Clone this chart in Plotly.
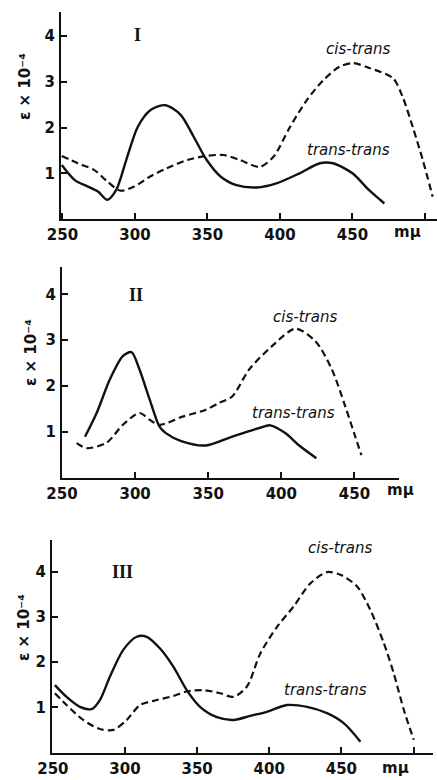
import plotly.graph_objects as go

# ---------------- data ----------------
# Panel I
x1_tt = [249.5, 258.5, 267.6, 274.5, 281, 287, 294, 302, 311, 321, 331.5, 340.5, 349.5, 359, 370, 384, 397.5, 413.5, 427.5, 436.5, 450, 461.5, 472]
y1_tt = [1.18, 0.85, 0.71, 0.6, 0.42, 0.63, 1.29, 2.02, 2.39, 2.49, 2.28, 1.8, 1.29, 0.93, 0.74, 0.69, 0.78, 1.0, 1.22, 1.22, 1.0, 0.63, 0.34]
x1_ct = [249.5, 260.5, 272, 281, 290, 299.5, 310.5, 322, 336, 349.5, 361, 372.5, 386, 395.5, 407, 418.5, 430, 441, 450.5, 462, 478, 484.5, 491.5, 498.5, 505.3]
y1_ct = [1.38, 1.22, 1.07, 0.82, 0.62, 0.71, 0.93, 1.11, 1.29, 1.38, 1.4, 1.29, 1.14, 1.36, 2.02, 2.6, 3.04, 3.33, 3.41, 3.3, 3.08, 2.68, 2.02, 1.29, 0.49]

# Panel II
x2_tt = [265.7, 273.7, 282.7, 291.6, 297.5, 303, 310, 316.7, 321, 332, 348.4, 366, 384.6, 392.5, 402.7, 411.8, 424]
y2_tt = [0.89, 1.41, 2.14, 2.65, 2.74, 2.36, 1.7, 1.11, 0.97, 0.79, 0.70, 0.89, 1.08, 1.14, 0.97, 0.71, 0.42]
x2_ct = [260, 266.9, 280.5, 291.6, 303, 310, 316.7, 332.4, 348.4, 357.4, 366.4, 378, 393.6, 409.6, 423.3, 434.6, 443.8, 450.6, 454.8]
y2_ct = [0.75, 0.64, 0.76, 1.15, 1.41, 1.26, 1.15, 1.33, 1.48, 1.63, 1.77, 2.36, 2.87, 3.25, 2.98, 2.36, 1.55, 0.89, 0.49]

# Panel III
x3_tt = [251.4, 259.5, 268.8, 276.9, 282.6, 289.6, 298.8, 308.1, 315, 324.3, 333.5, 342.8, 352, 363.7, 375.2, 386.8, 398.4, 412.3, 426.2, 440, 451.6, 463.2]
y3_tt = [1.49, 1.23, 1.01, 0.96, 1.16, 1.68, 2.27, 2.56, 2.56, 2.3, 1.9, 1.38, 1.01, 0.78, 0.72, 0.81, 0.9, 1.05, 1.01, 0.87, 0.65, 0.24]
x3_ct = [251.4, 259.5, 271, 282.6, 291.9, 301.2, 310.4, 322, 333.5, 342.8, 354.4, 366, 375.2, 384.5, 393.8, 405.4, 416.9, 428.5, 440, 449.3, 460.9, 470.1, 479.4, 486.3, 493.3, 500.2]
y3_ct = [1.31, 1.05, 0.72, 0.52, 0.5, 0.72, 1.05, 1.16, 1.25, 1.35, 1.38, 1.31, 1.23, 1.46, 2.19, 2.78, 3.23, 3.74, 3.99, 3.93, 3.67, 3.15, 2.42, 1.75, 0.94, 0.28]

x_ticks = [250, 300, 350, 400, 450]
x_ticktext = ["250", "300", "350", "400", "450"]
x_extra_tick = [500]          # unlabelled tick mark
y_ticks = [1, 2, 3, 4]
y_ticktext = ["1", "2", "3", "4"]
panel_names = ["I", "II", "III"]

# ---------------- figure ----------------
W, H = 437, 780
INK = "#111111"

def px(x):
    return x / W

def py(y):
    return 1 - y / H

fig = go.Figure()

curves = [
    (x1_tt, y1_tt, x1_ct, y1_ct, "x", "y"),
    (x2_tt, y2_tt, x2_ct, y2_ct, "x2", "y2"),
    (x3_tt, y3_tt, x3_ct, y3_ct, "x3", "y3"),
]
for xt, yt, xc, yc, xa, ya in curves:
    fig.add_trace(go.Scatter(x=xt, y=yt, mode="lines", xaxis=xa, yaxis=ya,
                             line=dict(color=INK, width=2.4, shape="spline", smoothing=0.8),
                             name="trans-trans"))
    fig.add_trace(go.Scatter(x=xc, y=yc, mode="lines", xaxis=xa, yaxis=ya,
                             line=dict(color=INK, width=2.2, shape="spline", smoothing=0.8, dash="7px,4px"),
                             name="cis-trans"))

tickfont = dict(family="DejaVu Sans", size=15, color=INK, weight="bold")

def xaxis(domain, rng, anchor, extra):
    d = dict(domain=domain, range=rng, anchor=anchor, showgrid=False, zeroline=False,
             showline=True, linecolor=INK, linewidth=2, ticks="inside", ticklen=6,
             tickwidth=1.6, tickcolor=INK, tickvals=x_ticks, ticktext=x_ticktext, tickfont=tickfont,
             ticklabelstandoff=1, fixedrange=True, automargin=False)
    if extra:
        d["minor"] = dict(tickvals=extra, ticks="inside", ticklen=6, tickwidth=1.6,
                          tickcolor=INK, showgrid=False)
    return d

def yaxis(domain, rng, anchor):
    return dict(domain=domain, range=rng, anchor=anchor, showgrid=False, zeroline=False,
                showline=True, linecolor=INK, linewidth=2, ticks="inside", ticklen=6,
                tickwidth=1.6, tickcolor=INK, tickvals=y_ticks, ticktext=y_ticktext,
                tickfont=tickfont, ticklabelstandoff=1, fixedrange=True, automargin=False)

fig.update_layout(
    width=W, height=H, margin=dict(l=0, r=0, t=0, b=0, autoexpand=False),
    paper_bgcolor="white", plot_bgcolor="white", showlegend=False,
    xaxis=xaxis([px(61), 1.0], [249, 508.3], "y", x_extra_tick),
    yaxis=yaxis([py(219), py(12)], [0, 4.53], "x"),
    xaxis2=xaxis([px(62), px(399)], [250, 480.5], "y2", None),
    yaxis2=yaxis([py(477.5), py(267)], [0, 4.6], "x2"),
    xaxis3=xaxis([px(52), px(433)], [249.4, 513.5], "y3", x_extra_tick),
    yaxis3=yaxis([py(752.5), py(540)], [0, 4.7], "x3"),
)

label_font = dict(family="DejaVu Sans", size=15, color=INK, style="italic")
roman_font = dict(family="Liberation Serif", size=18, color=INK, weight="bold")
unit_font = dict(family="DejaVu Sans", size=15, color=INK, weight="bold")
ytitle_font = dict(family="DejaVu Sans", size=15, color=INK, weight="bold")

ann = []
panel_text = [
    # roman, cis, trans, unit, ytitle  (pixel positions)
    ((137, 35), (358, 49), (348, 150), (407, 232), (25, 87)),
    ((136, 295), (305, 317), (293, 413), (400, 490), (31, 352)),
    ((123, 572), (340, 548), (325, 690), (395, 768), (24, 628)),
]
for name, (r, c, t, u, yt) in zip(panel_names, panel_text):
    ann.append(dict(text=name, x=px(r[0]), y=py(r[1]), font=roman_font))
    ann.append(dict(text="cis-trans", x=px(c[0]), y=py(c[1]), font=label_font))
    ann.append(dict(text="trans-trans", x=px(t[0]), y=py(t[1]), font=label_font))
    ann.append(dict(text="mμ", x=px(u[0]), y=py(u[1]), font=unit_font))
    ann.append(dict(text="ε × 10⁻⁴", x=px(yt[0]), y=py(yt[1]), font=ytitle_font, textangle=-90))

for a in ann:
    a.update(xref="paper", yref="paper", showarrow=False, xanchor="center", yanchor="middle")
fig.update_layout(annotations=ann)

fig.write_html("out.html")
